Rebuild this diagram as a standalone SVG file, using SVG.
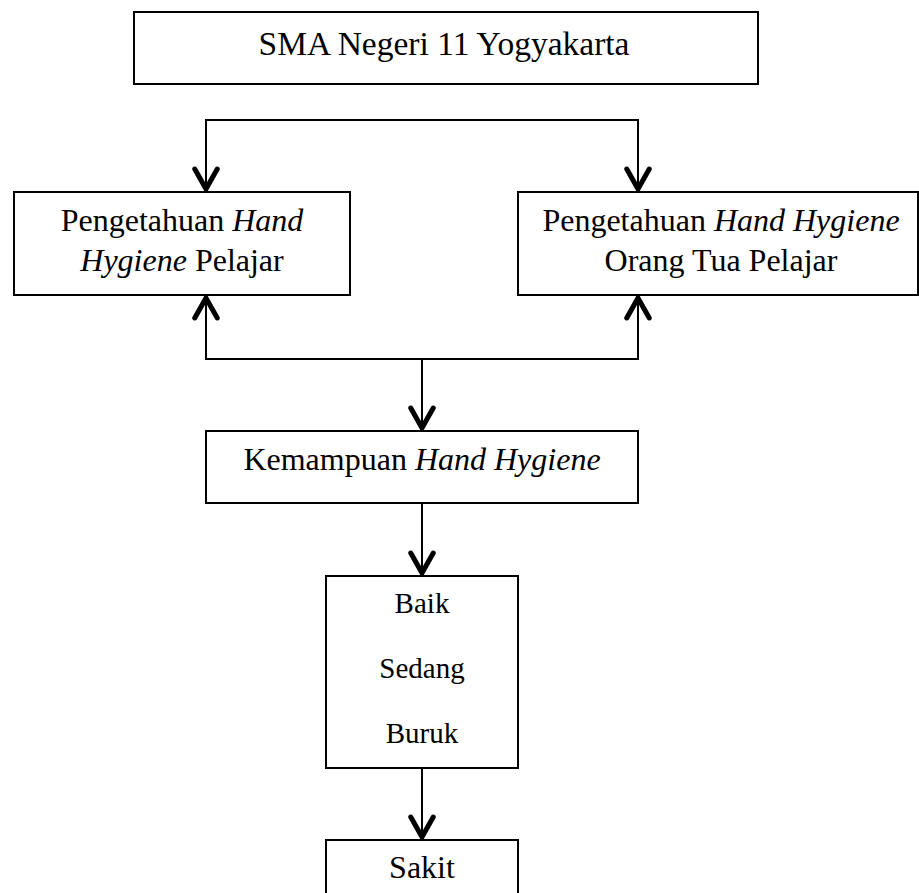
<svg xmlns="http://www.w3.org/2000/svg" width="919" height="893" viewBox="0 0 919 893">
  <style>
    .box { fill: #ffffff; stroke: #000000; stroke-width: 2; }
    .t { font-family: "Liberation Serif", "Times New Roman", serif; font-size: 32px; fill: #000000; text-anchor: middle; }
    .big { font-size: 33.5px; }
    .s { font-size: 29px; }
    .i { font-style: italic; }
    .c { fill: none; stroke: #000000; stroke-width: 2; }
  </style>
  <defs>
    <marker id="ah" markerUnits="userSpaceOnUse" markerWidth="30" markerHeight="30" viewBox="-20 -12 24 24" refX="0" refY="0" orient="auto-start-reverse">
      <path d="M-16,-9 L0,0 L-16,9" fill="none" stroke="#000000" stroke-width="4" stroke-linejoin="miter" stroke-linecap="round"/>
    </marker>
  </defs>
  <rect width="919" height="893" fill="#ffffff"/>

  <g id="connectors">
    <path class="c" d="M206,189 V120 H638 V189" marker-start="url(#ah)" marker-end="url(#ah)"/>
    <path class="c" d="M206,298 V359 H638 V298" marker-start="url(#ah)" marker-end="url(#ah)"/>
    <path class="c" d="M422,359 V428" marker-end="url(#ah)"/>
    <path class="c" d="M422,503 V573" marker-end="url(#ah)"/>
    <path class="c" d="M422,768 V837" marker-end="url(#ah)"/>
  </g>

  <g id="sma">
    <rect class="box" x="134" y="12" width="624" height="72"/>
    <text class="t big" x="444" y="55">SMA Negeri 11 Yogyakarta</text>
  </g>

  <g id="pengetahuan-pelajar">
    <rect class="box" x="14" y="192" width="336" height="103"/>
    <text class="t" x="182" y="231">Pengetahuan <tspan class="i">Hand</tspan></text>
    <text class="t" x="182" y="271"><tspan class="i">Hygiene</tspan> Pelajar</text>
  </g>

  <g id="pengetahuan-orangtua">
    <rect class="box" x="518" y="192" width="400" height="103"/>
    <text class="t" x="721" y="231">Pengetahuan <tspan class="i">Hand Hygiene</tspan></text>
    <text class="t" x="721" y="271">Orang Tua Pelajar</text>
  </g>

  <g id="kemampuan">
    <rect class="box" x="206" y="431" width="432" height="72"/>
    <text class="t" x="422" y="470">Kemampuan <tspan class="i">Hand Hygiene</tspan></text>
  </g>

  <g id="kategori">
    <rect class="box" x="326" y="576" width="192" height="192"/>
    <text class="t s" x="422" y="613">Baik</text>
    <text class="t s" x="422" y="678">Sedang</text>
    <text class="t s" x="422" y="743">Buruk</text>
  </g>

  <g id="sakit">
    <rect class="box" x="326" y="840" width="192" height="80"/>
    <text class="t" x="422" y="878">Sakit</text>
  </g>
</svg>
